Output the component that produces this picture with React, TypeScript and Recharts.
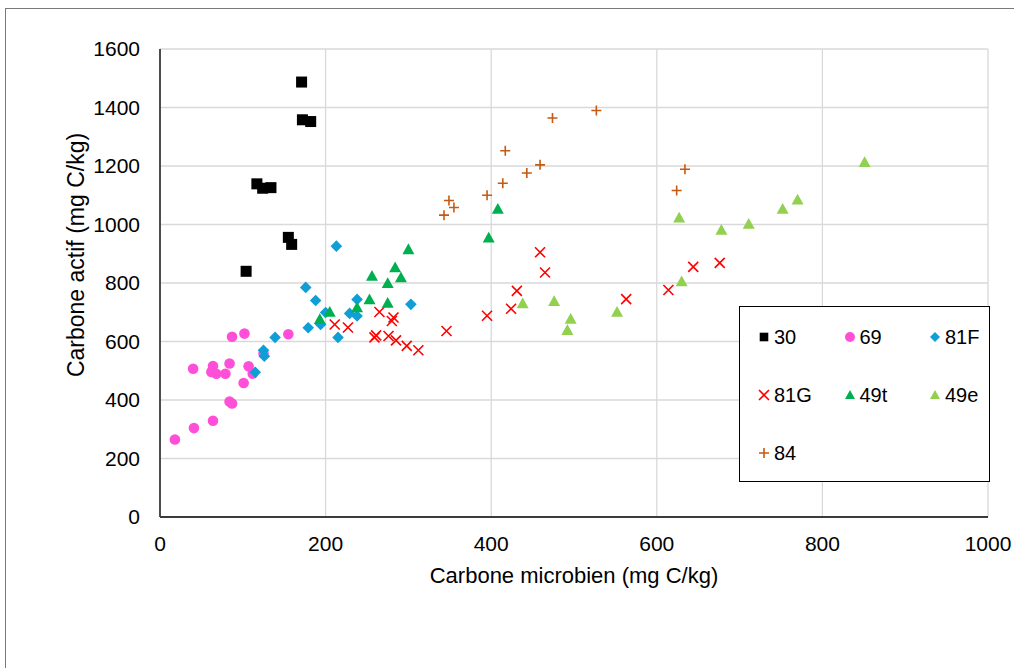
import React from 'react';
import { ScatterChart, Scatter, XAxis, YAxis, CartesianGrid, Legend } from 'recharts';

const FONT = '"Liberation Sans", Arial, Helvetica, sans-serif';

// values (mg C/kg)
const s30 = [
  { x: 171, y: 1487 }, { x: 172, y: 1358 }, { x: 182, y: 1352 }, { x: 117, y: 1139 }, { x: 124, y: 1124 },
  { x: 134, y: 1126 }, { x: 155, y: 956 }, { x: 159, y: 932 }, { x: 104, y: 840 },
];
const s69 = [
  { x: 18, y: 265 }, { x: 41, y: 304 }, { x: 64, y: 329 }, { x: 84, y: 395 }, { x: 87, y: 388 },
  { x: 40, y: 507 }, { x: 62, y: 496 }, { x: 64, y: 516 }, { x: 68, y: 490 }, { x: 79, y: 490 },
  { x: 84, y: 525 }, { x: 107, y: 515 }, { x: 112, y: 490 }, { x: 101, y: 458 }, { x: 87, y: 616 },
  { x: 102, y: 627 }, { x: 155, y: 625 }, { x: 125, y: 559 },
];
const s81F = [
  { x: 213, y: 926 }, { x: 176, y: 785 }, { x: 188, y: 740 }, { x: 200, y: 699 }, { x: 179, y: 647 },
  { x: 194, y: 658 }, { x: 215, y: 614 }, { x: 139, y: 614 }, { x: 125, y: 570 }, { x: 126, y: 550 },
  { x: 115, y: 495 }, { x: 238, y: 744 }, { x: 229, y: 696 }, { x: 238, y: 687 }, { x: 303, y: 727 },
];
const s81G = [
  { x: 265, y: 701 }, { x: 282, y: 682 }, { x: 280, y: 670 }, { x: 211, y: 658 }, { x: 227, y: 648 },
  { x: 261, y: 621 }, { x: 259, y: 614 }, { x: 276, y: 619 }, { x: 285, y: 604 }, { x: 298, y: 585 },
  { x: 312, y: 570 }, { x: 346, y: 636 }, { x: 395, y: 688 }, { x: 459, y: 905 }, { x: 465, y: 836 },
  { x: 431, y: 773 }, { x: 424, y: 712 }, { x: 563, y: 745 }, { x: 614, y: 776 }, { x: 644, y: 855 },
  { x: 676, y: 869 },
];
const s49t = [
  { x: 300, y: 915 }, { x: 284, y: 853 }, { x: 256, y: 824 }, { x: 291, y: 819 }, { x: 275, y: 799 },
  { x: 253, y: 744 }, { x: 275, y: 732 }, { x: 238, y: 716 }, { x: 205, y: 701 }, { x: 193, y: 676 },
  { x: 408, y: 1053 }, { x: 397, y: 955 },
];
const s49e = [
  { x: 438, y: 730 }, { x: 476, y: 738 }, { x: 496, y: 677 }, { x: 492, y: 639 }, { x: 552, y: 701 },
  { x: 630, y: 805 }, { x: 627, y: 1023 }, { x: 678, y: 981 }, { x: 711, y: 1002 }, { x: 752, y: 1053 },
  { x: 770, y: 1085 }, { x: 851, y: 1213 },
];
const s84 = [
  { x: 527, y: 1390 }, { x: 474, y: 1364 }, { x: 417, y: 1252 }, { x: 459, y: 1204 }, { x: 443, y: 1176 },
  { x: 414, y: 1141 }, { x: 395, y: 1100 }, { x: 349, y: 1082 }, { x: 355, y: 1058 }, { x: 343, y: 1032 },
  { x: 634, y: 1189 }, { x: 624, y: 1116 },
];

const xTicks = [0, 200, 400, 600, 800, 1000];
const yTicks = [0, 200, 400, 600, 800, 1000, 1200, 1400, 1600];

const SERIES = [
  { name: '30', data: s30, color: '#000000', kind: 'square', r: 5.5 },
  { name: '69', data: s69, color: '#ff4fd8', kind: 'circle', r: 5.3 },
  { name: '81F', data: s81F, color: '#0f9ed5', kind: 'diamond', r: 5.8 },
  { name: '81G', data: s81G, color: '#ff0000', kind: 'x', r: 5 },
  { name: '49t', data: s49t, color: '#00b050', kind: 'triangle', r: 6 },
  { name: '49e', data: s49e, color: '#92d050', kind: 'triangle', r: 6 },
  { name: '84', data: s84, color: '#c55a11', kind: 'plus', r: 5 },
];

const Marker = ({ kind, cx, cy, color, r }: any) => {
  switch (kind) {
    case 'square':
      return <rect x={cx - r} y={cy - r} width={2 * r} height={2 * r} fill={color} />;
    case 'circle':
      return <circle cx={cx} cy={cy} r={r} fill={color} />;
    case 'diamond':
      return <polygon points={`${cx},${cy - r} ${cx + r},${cy} ${cx},${cy + r} ${cx - r},${cy}`} fill={color} />;
    case 'x':
      return (
        <path d={`M${cx - r},${cy - r}L${cx + r},${cy + r}M${cx - r},${cy + r}L${cx + r},${cy - r}`}
          stroke={color} strokeWidth={1.6} fill="none" />
      );
    case 'triangle':
      return <polygon points={`${cx},${cy - r} ${cx + r},${cy + r * 0.8} ${cx - r},${cy + r * 0.8}`} fill={color} />;
    case 'plus':
      return (
        <path d={`M${cx - r},${cy}L${cx + r},${cy}M${cx},${cy - r}L${cx},${cy + r}`}
          stroke={color} strokeWidth={1.6} fill="none" />
      );
    default:
      return null;
  }
};

const XTitle = ({ viewBox }: any) => (
  <text x={viewBox.x + viewBox.width / 2} y={583} textAnchor="middle" fontSize={22} fontFamily={FONT} fill="#000">
    Carbone microbien (mg C/kg)
  </text>
);

const YTitle = () => (
  <text x={84} y={255} transform="rotate(-90 84 255)" textAnchor="middle" fontSize={23} fontFamily={FONT} fill="#000">
    Carbone actif (mg C/kg)
  </text>
);

const LegendBox = () => (
  <div style={{ position: 'relative', width: 251, height: 176, boxSizing: 'border-box', border: '1.3px solid #000', background: '#fff' }}>
    {SERIES.map((s, i) => {
      const col = i % 3;
      const row = Math.floor(i / 3);
      const mx = 24 + col * 85.5;
      const my = 30 + row * 58;
      return (
        <React.Fragment key={s.name}>
          <svg width={14} height={14} style={{ position: 'absolute', left: mx - 7, top: my - 7 }}>
            <Marker kind={s.kind} cx={7} cy={7} color={s.color} r={s.kind === 'square' ? 4.3 : 5} />
          </svg>
          <span style={{ position: 'absolute', left: mx + 10, top: my - 12, fontSize: 20, lineHeight: '24px', fontFamily: FONT, color: '#000' }}>
            {s.name}
          </span>
        </React.Fragment>
      );
    })}
  </div>
);

export default function App() {
  return (
    <div style={{ position: 'absolute', left: 0, top: 0, width: 1014, height: 668, overflow: 'hidden', background: '#fff' }}>
      <div style={{ position: 'absolute', left: 5, top: 8, width: 1009, height: 660, borderLeft: '1.5px solid #7a7a7a', borderTop: '1.5px solid #7a7a7a' }} />
      <ScatterChart width={1014} height={668} margin={{ top: 49, right: 26, bottom: 81, left: 0 }}>
        <CartesianGrid stroke="#d9d9d9" strokeWidth={1.3} />
        <XAxis type="number" dataKey="x" domain={[0, 1000]} ticks={xTicks} height={70}
          tick={{ fontSize: 21, fill: '#000', fontFamily: FONT }} tickLine={false} tickMargin={13}
          axisLine={{ stroke: '#3b3b3b', strokeWidth: 1.8 }} label={<XTitle />} />
        <YAxis type="number" dataKey="y" domain={[0, 1600]} ticks={yTicks} width={160}
          tick={{ fontSize: 21, fill: '#000', fontFamily: FONT }} tickLine={false} tickMargin={14}
          axisLine={{ stroke: '#3b3b3b', strokeWidth: 1.8 }} label={<YTitle />} />
        <Legend layout="horizontal" verticalAlign="middle" align="center" content={() => <LegendBox />}
          wrapperStyle={{ left: 739, top: 306, width: 251, height: 176 }} />
        {SERIES.map((s) => (
          <Scatter key={s.name} name={s.name} data={s.data} fill={s.color} isAnimationActive={false}
            shape={(p: any) => <Marker kind={s.kind} cx={p.cx} cy={p.cy} color={s.color} r={s.r} />} />
        ))}
      </ScatterChart>
    </div>
  );
}
